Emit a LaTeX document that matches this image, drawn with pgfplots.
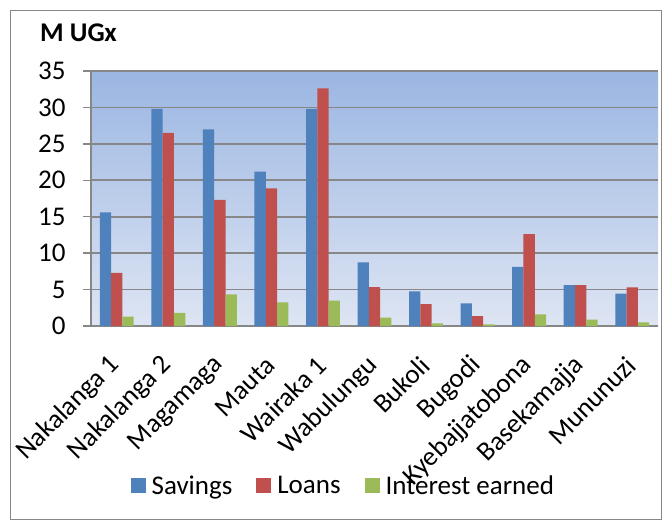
\documentclass[border=0pt]{standalone}
\usepackage{pgfplots}
\pgfplotsset{compat=1.18}
\usepackage{fontspec}
\setmainfont{Carlito}
\definecolor{savc}{HTML}{4F81BD}
\definecolor{loanc}{HTML}{C0504D}
\definecolor{intc}{HTML}{9BBB59}
\definecolor{bgtop}{HTML}{9BB6E2}
\definecolor{bgbot}{HTML}{DEE5F3}
\definecolor{gridc}{HTML}{878787}
\begin{document}
\begin{tikzpicture}
\fill[white] (0,0) rectangle (670pt,520pt);
\useasboundingbox (0,0) rectangle (670pt,520pt);
\draw[gridc, line width=1pt] (10pt,1pt) rectangle (661pt,509pt);
\begin{axis}[
  at={(91pt,194pt)}, anchor=south west,
  scale only axis, width=567pt, height=255pt,
  ybar=0pt, bar width=11.3pt,
  xmin=-0.5, xmax=10.5, ymin=0, ymax=35,
  ytick={0,5,...,35},
  xtick={0,...,10},
  xticklabels={Nakalanga 1,Nakalanga 2,Magamaga,Mauta,Wairaka 1,Wabulungu,Bukoli,Bugodi,Kyebajjatobona,Basekamajja,Mununuzi},
  x tick style={draw=none},
  extra x ticks={-0.5,0.5,...,10.5},
  extra x tick labels={},
  extra x tick style={tick style={draw=gridc, line width=1.3pt}, major tick length=8pt},
  y tick style={draw=gridc, line width=1.3pt}, major tick length=8pt,
  tick align=outside,
  axis x line*=bottom, axis y line*=left,
  axis line style={draw=gridc, line width=1.3pt, -},
  ymajorgrids, grid style={draw=gridc, line width=1.6pt},
  axis background/.style={shade, top color=bgtop, bottom color=bgbot},
  tick label style={font=\fontsize{27pt}{31pt}\selectfont},
  /pgf/number format/assume math mode=true,
  yticklabel style={xshift=-14pt},
  xticklabel style={xshift=-1pt, yshift=-27pt, rotate=45, anchor=east, inner sep=0pt},
  ylabel={\textbf{M UGx}},
  ylabel style={font=\fontsize{27pt}{31pt}\selectfont, rotate=-90, at={(axis description cs:-0.09,1.15)}, anchor=west, inner sep=0pt},
  legend columns=3,
  legend style={draw=none, fill=none, font=\fontsize{27pt}{31pt}\selectfont, at={(axis description cs:0.445,-0.627)}, anchor=center,
    /tikz/every even column/.append style={column sep=22pt},
    /tikz/every odd column/.append style={column sep=4pt}},
  legend image code/.code={\fill[#1] (0pt,-7.5pt) rectangle (15pt,7.5pt);},
]
\addplot[fill=savc, draw=none] coordinates {(0,15.6) (1,29.8) (2,27.0) (3,21.2) (4,29.8) (5,8.75) (6,4.76) (7,3.1) (8,8.1) (9,5.6) (10,4.45)};
\addplot[fill=loanc, draw=none] coordinates {(0,7.3) (1,26.5) (2,17.3) (3,18.9) (4,32.6) (5,5.35) (6,3.0) (7,1.35) (8,12.6) (9,5.6) (10,5.3)};
\addplot[fill=intc, draw=none] coordinates {(0,1.3) (1,1.8) (2,4.35) (3,3.25) (4,3.5) (5,1.15) (6,0.37) (7,0.22) (8,1.6) (9,0.87) (10,0.5)};
\legend{Savings,Loans,Interest earned}
\end{axis}
\end{tikzpicture}
\end{document}
